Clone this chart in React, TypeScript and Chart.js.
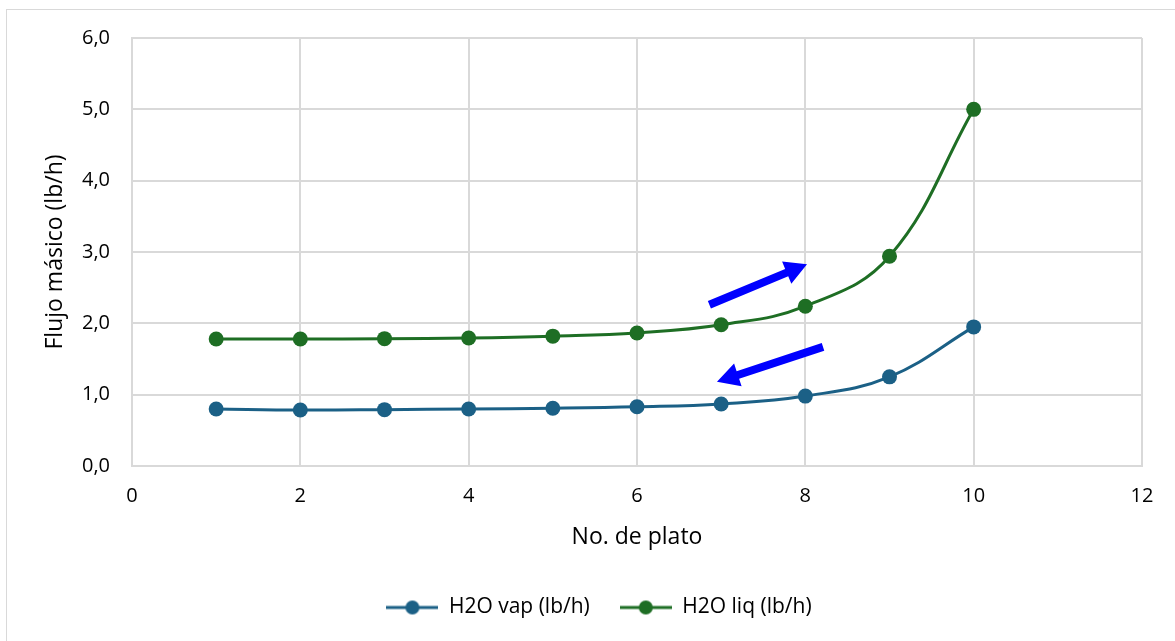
import React, { useEffect, useRef } from "react";
import { Chart, registerables } from "chart.js";

Chart.register(...registerables);

// Plate numbers and water mass flows per plate
const plates = [1, 2, 3, 4, 5, 6, 7, 8, 9, 10];
const vapFlow = [0.8, 0.785, 0.79, 0.8, 0.81, 0.83, 0.87, 0.98, 1.25, 1.95];
const liqFlow = [1.78, 1.78, 1.785, 1.795, 1.82, 1.865, 1.98, 2.24, 2.94, 5.0];

const seriesNames = ["H2O vap (lb/h)", "H2O liq (lb/h)"];
const seriesColors = ["#1b6086", "#1e6e24"];

// Flow-direction arrows, given in axis units: [x0, y0, x1, y1]
const liqArrow = [6.86, 2.26, 8.02, 2.83];
const vapArrow = [8.21, 1.67, 6.95, 1.18];

const fontFamily = "'Open Sans', 'Noto Sans', sans-serif";

function legendIcon(color: string): HTMLCanvasElement {
  const c = document.createElement("canvas");
  c.width = 52;
  c.height = 16;
  const ctx = c.getContext("2d")!;
  ctx.strokeStyle = color;
  ctx.lineWidth = 3;
  ctx.beginPath();
  ctx.moveTo(0, 8);
  ctx.lineTo(52, 8);
  ctx.stroke();
  ctx.fillStyle = color;
  ctx.beginPath();
  ctx.arc(26, 8, 7, 0, Math.PI * 2);
  ctx.fill();
  return c;
}

const frameAndArrows = {
  id: "frameAndArrows",
  afterLayout(chart: any) {
    // nudge the legend row to the right of the canvas centre
    if (chart.legend) {
      chart.legend.left += 28;
      chart.legend.right += 28;
    }
  },
  beforeDraw(chart: any) {
    const ctx = chart.ctx;
    ctx.save();
    ctx.strokeStyle = "#d9d9d9";
    ctx.lineWidth = 1;
    ctx.strokeRect(6.5, 9.5, 1300, 800);
    ctx.restore();
  },
  afterDatasetsDraw(chart: any) {
    const ctx = chart.ctx;
    const xs = chart.scales.x;
    const ys = chart.scales.y;
    const drawArrow = (a: number[]) => {
      const x0 = xs.getPixelForValue(a[0]);
      const y0 = ys.getPixelForValue(a[1]);
      const x1 = xs.getPixelForValue(a[2]);
      const y1 = ys.getPixelForValue(a[3]);
      const ang = Math.atan2(y1 - y0, x1 - x0);
      const len = Math.hypot(x1 - x0, y1 - y0);
      const headLen = 22;
      const headHalf = 12;
      const shaftHalf = 4;
      ctx.save();
      ctx.translate(x0, y0);
      ctx.rotate(ang);
      ctx.fillStyle = "#0000ff";
      ctx.beginPath();
      ctx.moveTo(0, -shaftHalf);
      ctx.lineTo(len - headLen, -shaftHalf);
      ctx.lineTo(len - headLen, -headHalf);
      ctx.lineTo(len, 0);
      ctx.lineTo(len - headLen, headHalf);
      ctx.lineTo(len - headLen, shaftHalf);
      ctx.lineTo(0, shaftHalf);
      ctx.closePath();
      ctx.fill();
      ctx.restore();
    };
    drawArrow(liqArrow);
    drawArrow(vapArrow);
  },
};

export default function App() {
  const canvasRef = useRef<HTMLCanvasElement | null>(null);

  useEffect(() => {
    if (!canvasRef.current) return;
    const mk = (vals: number[], i: number) => ({
      label: seriesNames[i],
      data: plates.map((p, k) => ({ x: p, y: vals[k] })),
      borderColor: seriesColors[i],
      backgroundColor: seriesColors[i],
      borderWidth: 3,
      pointRadius: 7.5,
      pointHoverRadius: 7.5,
      pointBorderWidth: 0,
      tension: 0.4,
      showLine: true,
    });
    const chart = new Chart(canvasRef.current, {
      type: "scatter",
      data: { datasets: [mk(vapFlow, 0), mk(liqFlow, 1)] },
      plugins: [frameAndArrows],
      options: {
        animation: false,
        responsive: false,
        maintainAspectRatio: false,
        layout: { padding: { left: 0, top: 38, right: 33, bottom: 13 } },
        scales: {
          x: {
            type: "linear",
            min: 0,
            max: 12,
            ticks: {
              stepSize: 2,
              color: "#000",
              font: { family: fontFamily, size: 20 },
              padding: 18,
            },
            grid: { color: "#d9d9d9", lineWidth: 2, drawTicks: false },
            border: { color: "#d9d9d9", width: 2 },
            title: {
              display: true,
              text: "No. de plato",
              color: "#000",
              font: { family: fontFamily, size: 23 },
              padding: { top: 6, bottom: 16 },
            },
            afterFit: (s: any) => {
              s.height = 101;
            },
          },
          y: {
            min: 0,
            max: 6,
            ticks: {
              stepSize: 1,
              color: "#000",
              font: { family: fontFamily, size: 20 },
              padding: 22,
              callback: (v: any) => Number(v).toFixed(1).replace(".", ","),
            },
            grid: { color: "#d9d9d9", lineWidth: 2, drawTicks: false },
            border: { color: "#d9d9d9", width: 2 },
            title: {
              display: true,
              text: "Flujo másico (lb/h)",
              color: "#000",
              font: { family: fontFamily, size: 23 },
              padding: { top: 42, bottom: 0 },
            },
            afterFit: (s: any) => {
              s.width = 132;
            },
          },
        },
        plugins: {
          tooltip: { enabled: false },
          legend: {
            position: "bottom",
            labels: {
              color: "#000",
              font: { family: fontFamily, size: 21 },
              usePointStyle: true,
              pointStyleWidth: 52,
              padding: 30,
              generateLabels: () =>
                seriesNames.map((n, i) => ({
                  text: n,
                  pointStyle: legendIcon(seriesColors[i]),
                  fillStyle: seriesColors[i],
                  strokeStyle: seriesColors[i],
                  lineWidth: 0,
                  datasetIndex: i,
                  hidden: false,
                })),
            },
          },
        },
      },
    });
    return () => chart.destroy();
  }, []);

  return (
    <div style={{ position: "fixed", left: 0, top: 0, width: 1175, height: 641, background: "#fff" }}>
      <canvas ref={canvasRef} width={1175} height={641} style={{ display: "block" }} />
    </div>
  );
}
